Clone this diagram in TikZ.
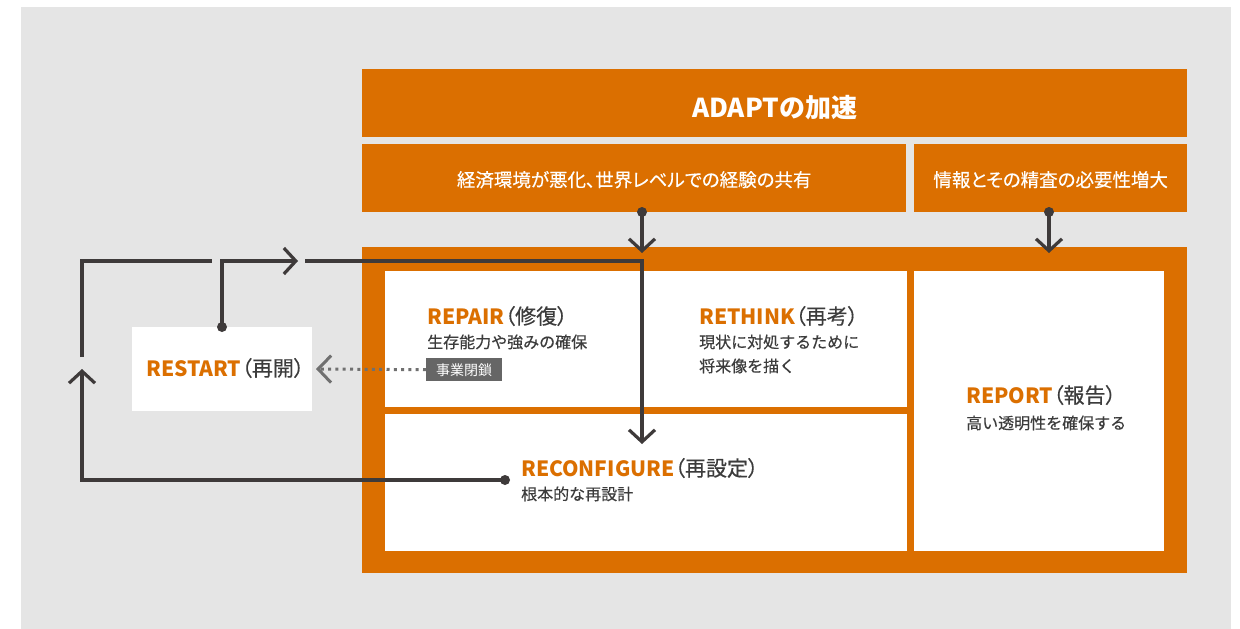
\documentclass[tikz,border=0pt]{standalone}
\usepackage{fontspec}
\setmainfont{Noto Sans CJK JP}
\newfontfamily\pfont[RawFeature=+palt,FakeBold=0.4]{Noto Sans CJK JP}
\newfontfamily\medfont[FakeBold=0.4]{Noto Sans CJK JP}
\usetikzlibrary{arrows.meta,positioning}
\definecolor{adaptorange}{HTML}{DB6F00}
\definecolor{bggray}{HTML}{E5E5E5}
\definecolor{linegray}{HTML}{3E3A3A}
\definecolor{txtgray}{HTML}{3C3C3C}
\definecolor{taggray}{HTML}{666666}
\definecolor{dotgray}{HTML}{707070}
\newcommand{\rtitle}[2]{{\color{adaptorange}\bfseries #1}{\pfont（#2）}}

\begin{document}
\begin{tikzpicture}[x=1pt,y=-1pt,
    bar/.style={fill=adaptorange,text=white,anchor=north west,inner sep=0pt},
    panel/.style={fill=white,anchor=north west,inner sep=0pt},
    ttl/.style={anchor=base west,inner sep=0pt,text=txtgray,
                font=\fontsize{21}{21}\selectfont},
    desc/.style={anchor=base west,inner sep=0pt,text=txtgray,align=left,
                 font=\fontsize{16}{24}\selectfont\medfont},
    tag/.style={fill=taggray,text=white,anchor=north west,inner sep=0pt,
                minimum width=76pt,minimum height=23pt,
                font=\fontsize{14}{14}\selectfont},
    dot/.style={circle,fill=linegray,inner sep=0pt,minimum size=10pt},
    flow/.style={line width=3.2pt,draw=linegray,
                 -{Straight Barb[length=12pt,width=26pt]}},
    plain/.style={line width=3.2pt,draw=linegray},
    dots/.style={line width=3pt,draw=dotgray,dash pattern=on 3pt off 4.3pt,
                 -{Straight Barb[length=13pt,width=27pt]}}
  ]
    \useasboundingbox (0,0) rectangle (1240,629);
    \fill[bggray] (21,7) rectangle (1231,629);

    %% headline bars
    \node[bar,minimum width=825pt,minimum height=68pt,text height=29pt,text depth=0pt,
          font=\fontsize{26}{26}\selectfont\bfseries] (adapt) at (362,69) {ADAPTの加速};
    \node[bar,minimum width=544pt,minimum height=68pt,text height=17pt,text depth=0pt,
          font=\fontsize{18.5}{18.5}\selectfont\pfont] (econ) at (362,144)
      {経済環境が悪化、世界レベルでの経験の共有};
    \node[bar,minimum width=273pt,minimum height=68pt,text height=17pt,text depth=0pt,
          font=\fontsize{18.5}{18.5}\selectfont\pfont] (info) at (914,144)
      {情報とその精査の必要性増大};

    %% frame and panels
    \node[bar,minimum width=825pt,minimum height=326pt] (frame) at (362,247) {};
    \node[panel,minimum width=522pt,minimum height=136pt] (upper) at (385,271) {};
    \node[panel,minimum width=522pt,minimum height=137pt] (lower) at (385,414) {};
    \node[panel,minimum width=250pt,minimum height=280pt] (report) at (914,271) {};
    \node[panel,minimum width=180pt,minimum height=84pt] (restart) at (132,327) {};

    %% texts
    \node[ttl] (repairT) at (427,324) {\rtitle{REPAIR}{修復}};
    \node[desc] (repairD) at ([yshift=-24pt]repairT.base west) {生存能力や強みの確保};
    \node[tag] (closure) at (426,358) {事業閉鎖};
    \node[ttl] (rethinkT) at (699,324) {\rtitle{RETHINK}{再考}};
    \node[desc] (rethinkD) at ([yshift=-48pt]rethinkT.base west)
      {現状に対処するために\\将来像を描く};
    \node[ttl] (reconfT) at (521,476) {\rtitle{RECONFIGURE}{再設定}};
    \node[desc] (reconfD) at ([yshift=-24pt]reconfT.base west) {根本的な再設計};
    \node[ttl] (reportT) at (966,403) {\rtitle{REPORT}{報告}};
    \node[desc] (reportD) at ([yshift=-26pt]reportT.base west) {高い透明性を確保する};
    \node[ttl] (restartT) at (146,376) {\rtitle{RESTART}{再開}};

    %% inputs from the bars
    \node[dot] (econDot) at (642,212) {};
    \node[dot] (infoDot) at (1049,212) {};
    \coordinate (econTip) at (642,253);
    \coordinate (infoTip) at (1049,253);
    \draw[flow] (econDot.center) -- (econTip);
    \draw[flow] (infoDot.center) -- (infoTip);

    %% loops
    \node[dot] (restartDot) at (222,327) {};
    \node[dot] (reconfDot) at (505,480) {};
    \coordinate (loopTip) at (298,261);
    \coordinate (loopGo) at (305,261);
    \coordinate (reconfTip) at (642,444);
    \coordinate (outerTip) at (82,369);
    \coordinate (outerGo) at (82,357);
    \coordinate (outerEnd) at (212,261);
    \coordinate (restartTip) at (316,369);
    \draw[flow] (restartDot.center) |- (loopTip);
    \draw[flow] (loopGo) -| (reconfTip);
    \draw[flow] (reconfDot.center) -| (outerTip);
    \draw[plain] (outerGo) |- (outerEnd);

    %% closure back to restart
    \draw[dots] (closure.west) -- (restartTip);
\end{tikzpicture}
\end{document}
